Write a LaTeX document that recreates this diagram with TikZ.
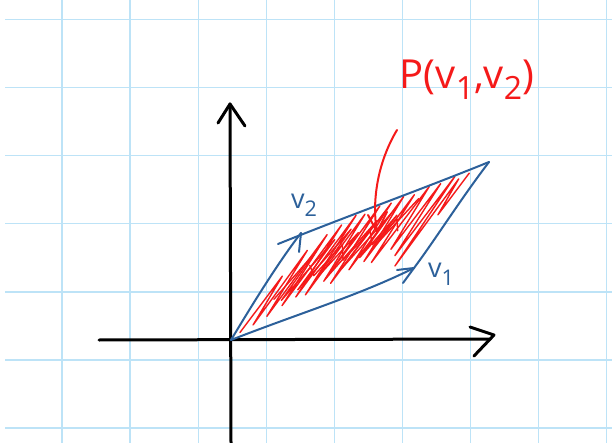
\documentclass[tikz,border=0pt]{standalone}
\usepackage{fontspec}
\setmainfont{Open Sans}
\definecolor{gridc}{HTML}{BDE3F7}
\definecolor{penblue}{HTML}{2C609A}
\definecolor{penred}{HTML}{F51A1A}
\newcommand{\lowdigit}[1]{\raisebox{-0.28em}{\scalebox{0.8}{#1}}}
\begin{document}
\begin{tikzpicture}[x=1pt,y=-1pt,
  gridline/.style={gridc, line width=1.3pt},
  axisline/.style={black, line width=3pt, line cap=round, line join=round},
  vecline/.style={penblue, line width=2pt, line cap=round, line join=round},
  hatchline/.style={penred, line width=1.4pt, line cap=round, line join=round},
  redpen/.style={penred, line width=2pt, line cap=round, line join=round},
  bluelabel/.style={penblue, inner sep=0pt, font=\fontsize{27}{27}\selectfont},
  redlabel/.style={penred, inner sep=0pt, font=\fontsize{40}{40}\selectfont}]
\useasboundingbox (0,0) rectangle (612,443);
\fill[white] (0,0) rectangle (612,443);
% grid
\foreach \gx in {62,130.1,198.2,266.3,334.4,402.5,470.6,538.7,606.8}
  \draw[gridline] (\gx,0) -- (\gx,443);
\foreach \gy in {19.5,87.6,155.7,223.8,291.9,360,428.1}
  \draw[gridline] (5,\gy) -- (612,\gy);
% coordinates
\coordinate (O) at (231,340);
\coordinate (A) at (414,268);
\coordinate (B) at (489,162);
\coordinate (C) at (301,233);
\coordinate (Ts) at (278,244);
\coordinate (xl) at (99,340);
\coordinate (xr) at (490,339);
\coordinate (xt) at (494,335);
\coordinate (xa1) at (470,327);
\coordinate (xa2) at (474,356);
\coordinate (yb) at (231,443);
\coordinate (yt) at (230,104);
\coordinate (ya1) at (218,123);
\coordinate (ya2) at (245,126);
% axes
\draw[axisline] (xl) -- (xr);
\draw[axisline] (xa1) -- (xt) -- (xa2);
\draw[axisline] (yb) -- (yt);
\draw[axisline] (ya1) -- (yt) -- (ya2);
% hatching
\begin{scope}[shift={(231,340)}, x={(183pt,72pt)}, y={(70pt,107pt)}]
\draw[hatchline] plot coordinates {
 (0.03,0.05) (0.07,0.55) (0.09,0.08) (0.13,0.75) (0.15,0.12) (0.2,0.85)
 (0.21,0.18) (0.26,0.9) (0.27,0.22) (0.32,0.95) (0.33,0.2) (0.38,0.92)
 (0.4,0.28) (0.45,0.95) (0.46,0.22) (0.52,0.93) (0.53,0.3) (0.58,0.95)
 (0.6,0.33) (0.65,0.92) (0.66,0.28) (0.72,0.95) (0.74,0.35) (0.79,0.93)
 (0.8,0.25) (0.86,0.95) (0.85,0.12) (0.9,0.9) (0.92,0.55) (0.95,0.92)};
\draw[hatchline] plot coordinates {
 (0.12,0.3) (0.2,0.7) (0.18,0.25) (0.28,0.75) (0.25,0.3) (0.35,0.8)
 (0.33,0.35) (0.42,0.72) (0.4,0.3) (0.5,0.78) (0.47,0.35) (0.57,0.8)
 (0.55,0.4) (0.62,0.75) (0.6,0.45) (0.7,0.85)};
\draw[hatchline] plot coordinates {
 (0.22,0.55) (0.3,0.4) (0.36,0.65) (0.44,0.45) (0.5,0.68) (0.58,0.5)
 (0.64,0.7) (0.7,0.55)};
\end{scope}
% parallelogram and vectors
\draw[vecline] (O) .. controls (300,313) and (360,295) .. (A);
\draw[vecline] (O) .. controls (255,300) and (280,260) .. (C);
\draw[vecline] (Ts) .. controls (350,215) and (420,190) .. (B);
\draw[vecline] (B) .. controls (460,200) and (435,240) .. (A);
\draw[vecline] (397,270) -- (A) -- (403,283);
\draw[vecline] (C) -- (299,252);
% red arrow
\coordinate (rs) at (397,130);
\coordinate (rt) at (377,232);
\draw[redpen] (rs) .. controls (376,165) and (372,205) .. (rt);
\draw[redpen] (368,215) -- (rt) -- (387,212);
% labels
\node[bluelabel] (lv2) at (304,205) {v\lowdigit{2}};
\node[bluelabel] (lv1) at (441,274) {v\lowdigit{1}};
\node[redlabel] (lp) at (467,80) {P(v\lowdigit{1},v\lowdigit{2})};
\end{tikzpicture}
\end{document}
